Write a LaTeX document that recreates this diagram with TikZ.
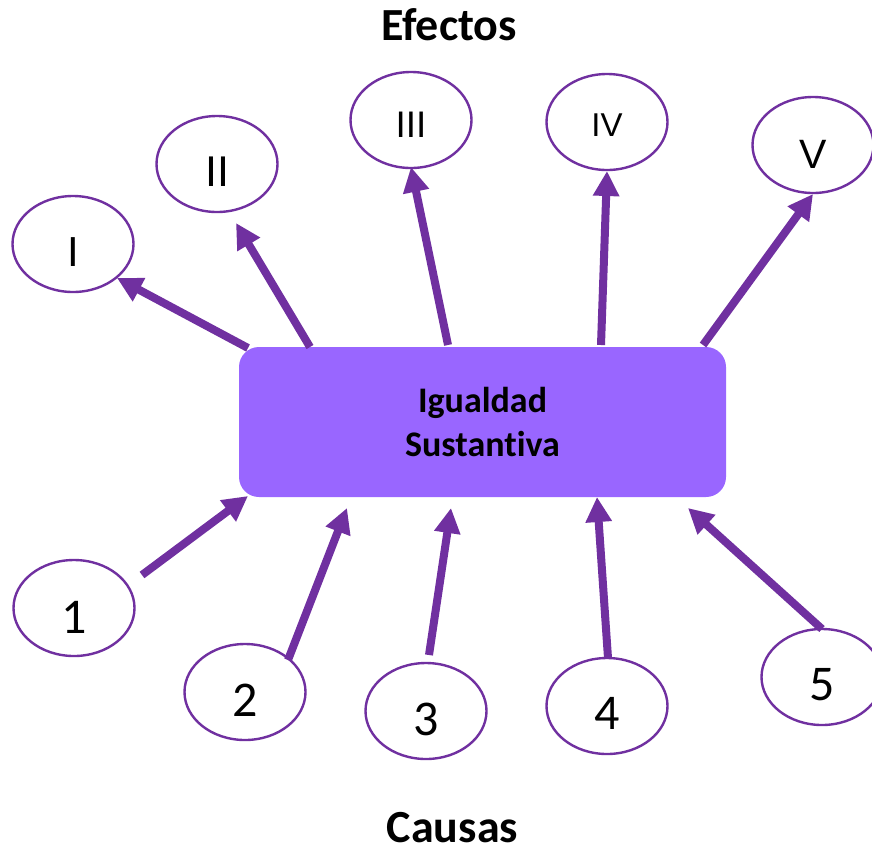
\documentclass[tikz,border=0pt]{standalone}
\usepackage{fontspec}
\setmainfont{Carlito}[Ligatures=NoCommon]
\newfontfamily\romfont{Liberation Sans}
\usetikzlibrary{shapes.geometric,arrows.meta}
\definecolor{arrpurple}{HTML}{7030A0}
\definecolor{boxpurple}{HTML}{9966FF}
\tikzset{
  x=1pt,y=-1pt,
  oval/.style={ellipse,draw=arrpurple,line width=2.4pt,fill=white,minimum width=121pt,minimum height=96pt,inner sep=0pt},
  conn/.style={draw=arrpurple,line width=8pt,-{Triangle[length=25pt,width=25pt]}},
  title/.style={font=\bfseries\fontsize{46}{48}\selectfont,inner sep=0pt,anchor=base},
  rlab/.style n args={3}{label={[font=\romfont\fontsize{#1}{#1}\selectfont,yshift=-#2pt,inner sep=0pt]center:#3}},
  dlab/.style 2 args={label={[font=\fontsize{50}{50}\selectfont,yshift=-#1pt,inner sep=0pt]center:#2}}
}
\begin{document}
\begin{tikzpicture}
\useasboundingbox (0,0) rectangle (872,852);
% central box
\node[fill=boxpurple,rounded corners=20pt,minimum width=487pt,minimum height=150pt,inner sep=0pt,align=center,
  font=\bfseries\fontsize{36}{44}\selectfont] (box) at (482.5,422) {Igualdad\\Sustantiva};
% titles
\node[title] (ef) at (449,40) {Efectos};
\node[title] (ca) at (452.5,842) {Causas};
% effect ellipses
\node[oval,rlab={42}{8}{I}] (e1) at (73,244) {};
\node[oval,rlab={43}{8}{II}] (e2) at (217,164) {};
\node[oval,rlab={37}{5}{III}] (e3) at (411,120) {};
\node[oval,rlab={33}{3}{IV}] (e4) at (607,122) {};
\node[oval,rlab={41}{9}{V}] (e5) at (813,145) {};
% cause ellipses
\node[oval,dlab={9}{1}] (c1) at (74,608) {};
\node[oval,dlab={8}{2}] (c2) at (245,692) {};
\node[oval,dlab={8}{3}] (c3) at (426,711) {};
\node[oval,dlab={7}{4}] (c4) at (607,706) {};
\node[oval,dlab={8}{5}] (c5) at (822,677) {};
% connector end points
\coordinate (t1) at (248,348); \coordinate (h1) at (117,278);
\coordinate (t2) at (310,347); \coordinate (h2) at (236,223);
\coordinate (t3) at (448,345); \coordinate (h3) at (411,167);
\coordinate (t4) at (601,345); \coordinate (h4) at (607,171);
\coordinate (t5) at (703,345); \coordinate (h5) at (813,194);
\coordinate (s1) at (142,575); \coordinate (p1) at (248,496);
\coordinate (s2) at (288,660); \coordinate (p2) at (347,508);
\coordinate (s3) at (429,655); \coordinate (p3) at (451,508);
\coordinate (s4) at (608,658); \coordinate (p4) at (597,497);
\coordinate (s5) at (822,629); \coordinate (p5) at (688,508);
% connectors
\foreach \i in {1,...,5} {
  \draw[conn] (t\i) -- (h\i);
  \draw[conn] (s\i) -- (p\i);
}
\end{tikzpicture}
\end{document}
